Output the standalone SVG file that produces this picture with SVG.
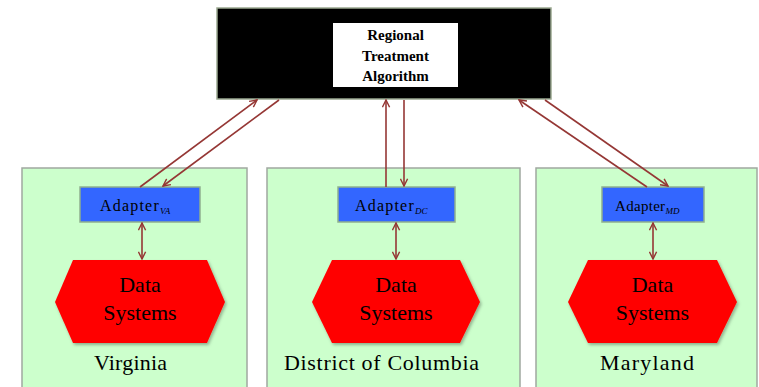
<svg xmlns="http://www.w3.org/2000/svg" width="759" height="387" viewBox="0 0 759 387">
  <style>
    .region { fill: #ccffcc; stroke: #a0a8a0; stroke-width: 1.5; }
    .adapter { fill: #3366ff; stroke: #8fb08f; stroke-width: 1.5; }
    .hex { fill: #ff0000; filter: url(#shadow); }
    .link { stroke: #953735; stroke-width: 1.6; fill: none; }
    text { font-family: 'Liberation Serif', 'DejaVu Serif', serif; fill: #000; }
    .ad { font-size: 16px; letter-spacing: 1.2px; }
    .sub { font-size: 9px; font-style: italic; letter-spacing: 0; }
    .big { font-size: 22px; text-anchor: middle; }
    .title { font-size: 15px; font-weight: bold; text-anchor: middle; }
  </style>
  <defs>
    <marker id="head" viewBox="0 0 10 10" refX="9" refY="5" markerWidth="9" markerHeight="9" markerUnits="userSpaceOnUse" orient="auto-start-reverse">
      <path d="M1,1 L9,5 L1,9" fill="none" stroke="#953735" stroke-width="1.6"/>
    </marker>
    <filter id="shadow" x="-10%" y="-10%" width="130%" height="130%">
      <feDropShadow dx="1.5" dy="2" stdDeviation="1.5" flood-color="#000" flood-opacity="0.3"/>
    </filter>
  </defs>

  <!-- central algorithm block -->
  <g id="algorithm" font-family="Liberation Serif, serif">
    <rect x="217" y="8" width="334" height="91" fill="#000" stroke="#9aa890" stroke-width="1.5"/>
    <rect x="333" y="23" width="125" height="64" fill="#fff"/>
    <text class="title" x="395.5" y="40">Regional</text>
    <text class="title" x="395.5" y="61">Treatment</text>
    <text class="title" x="395.5" y="81">Algorithm</text>
  </g>

  <!-- Virginia -->
  <g id="virginia">
    <rect class="region" x="22" y="168" width="225" height="225"/>
    <rect class="adapter" x="80" y="187" width="120" height="35"/>
    <text class="ad" x="100" y="211">Adapter<tspan class="sub" dy="3">VA</tspan></text>
    <polygon class="hex" points="55,302 73,260 207,260 225,302 207,343 73,343"/>
    <text class="big" x="140" y="292">Data</text>
    <text class="big" x="140" y="320">Systems</text>
    <text class="big" x="130.5" y="370" textLength="73">Virginia</text>
  </g>

  <!-- District of Columbia -->
  <g id="dc">
    <rect class="region" x="267" y="168" width="253" height="225"/>
    <rect class="adapter" x="338" y="187" width="117" height="35"/>
    <text class="ad" x="355" y="211">Adapter<tspan class="sub" dy="3">DC</tspan></text>
    <polygon class="hex" points="312,302 332,260 460,260 480,302 460,343 332,343"/>
    <text class="big" x="396" y="292">Data</text>
    <text class="big" x="396" y="320">Systems</text>
    <text class="big" x="381.5" y="370" textLength="195">District of Columbia</text>
  </g>

  <!-- Maryland -->
  <g id="maryland">
    <rect class="region" x="536" y="168" width="221" height="225"/>
    <rect class="adapter" x="602" y="187" width="102" height="35"/>
    <text class="ad" x="615" y="211" style="font-size:15px;letter-spacing:0.3px">Adapter<tspan class="sub" dy="3">MD</tspan></text>
    <polygon class="hex" points="568,302 588,260 717,260 737,302 717,343 588,343"/>
    <text class="big" x="652.5" y="292">Data</text>
    <text class="big" x="652.5" y="320">Systems</text>
    <text class="big" x="647" y="370" textLength="94">Maryland</text>
  </g>

  <!-- connectors -->
  <g id="connectors">
    <line class="link" x1="140" y1="187" x2="257" y2="100" marker-end="url(#head)"/>
    <line class="link" x1="279" y1="100" x2="163" y2="186" marker-end="url(#head)"/>
    <line class="link" x1="386" y1="187" x2="386" y2="100" marker-end="url(#head)"/>
    <line class="link" x1="404" y1="100" x2="404" y2="186" marker-end="url(#head)"/>
    <line class="link" x1="647" y1="187" x2="519" y2="100" marker-end="url(#head)"/>
    <line class="link" x1="545" y1="100" x2="668" y2="186" marker-end="url(#head)"/>
    <line class="link" x1="142" y1="223" x2="142" y2="259" marker-start="url(#head)" marker-end="url(#head)"/>
    <line class="link" x1="396" y1="223" x2="396" y2="259" marker-start="url(#head)" marker-end="url(#head)"/>
    <line class="link" x1="653" y1="223" x2="653" y2="259" marker-start="url(#head)" marker-end="url(#head)"/>
  </g>
</svg>
